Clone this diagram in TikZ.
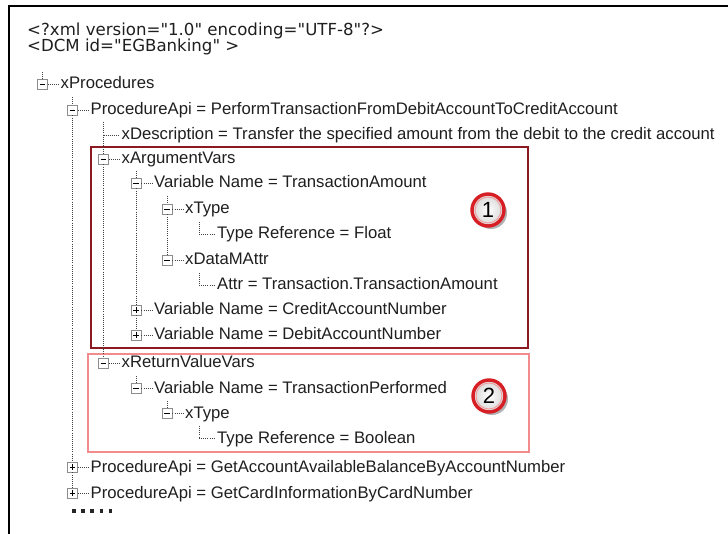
\documentclass[tikz,border=0pt]{standalone}
\usepackage{fontspec}
\setmainfont{Liberation Sans}
\newfontfamily\headfont{DejaVu Sans}
\usetikzlibrary{shadows,calc}
\newcommand\treefont{\fontsize{16.7}{20}\selectfont}
\newcommand\hdrfont{\headfont\fontsize{16.6}{20}\selectfont}
\begin{document}
\begin{tikzpicture}[x=1pt,y=-1pt,
  lbl/.style={anchor=base west, inner sep=0pt, font=\treefont, text=black!88},
  hdr/.style={anchor=base west, inner sep=0pt, font=\hdrfont, text=black!88},
  tbox/.style={draw=black!45, fill=white, line width=0.9pt, minimum size=10pt, inner sep=0pt},
  mbox/.style={tbox, path picture={\draw[black, line width=0.9pt] ($(path picture bounding box.center)+(-2.8,0)$) -- ++(5.6,0);}},
  pbox/.style={tbox, path picture={\draw[black, line width=0.9pt] ($(path picture bounding box.center)+(-2.8,0)$) -- ++(5.6,0) ($(path picture bounding box.center)+(0,-2.8)$) -- ++(0,5.6);}},
  dotl/.style={draw=black!75, line width=0.9pt, dash pattern=on 0.9pt off 1.2pt},
  hlink/.style={dotl, shorten >=2pt},
  badge/.style={circle, minimum size=32pt, inner sep=0pt, draw={rgb,255:red,214;green,30;blue,36}, line width=3.4pt,
    inner color=white, outer color=black!16, font=\fontsize{22}{22}\selectfont,
    drop shadow={shadow xshift=3pt, shadow yshift=-3pt, opacity=0.3, fill=black}},
  ring/.style={circle, minimum size=26pt, inner sep=0pt, draw={rgb,255:red,245;green,150;blue,150}, line width=0.8pt}
]
\useasboundingbox (0,0) rectangle (728,534);
\fill[white] (0,0) rectangle (728,534);
% frame
\draw[line width=2pt] (9,534) -- (9,6) -- (728,6);

% header lines
\node[hdr] (h1) at (27,36) {<?xml version="1.0" encoding="UTF-8"?>};
\node[hdr] (h2) at (27,52) {<DCM id="EGBanking" >};

% highlight boxes
\draw[line width=2.6pt, draw={rgb,255:red,140;green,24;blue,32}] (91,147) rectangle (528,348);
\draw[line width=2pt, draw={rgb,255:red,242;green,140;blue,140}] (88,354) rectangle (529,452);

% stubs and leaf coordinates
\coordinate (s1) at (42.5,72);
\coordinate (s2) at (72.5,97);
\coordinate (s3) at (103.5,122);
\coordinate (s5) at (136,171);
\coordinate (s6) at (167,196);
\coordinate (s7) at (199,222);
\coordinate (s9) at (199,273);
\coordinate (s13) at (136,376);
\coordinate (s14) at (167,401);
\coordinate (s15) at (199,426);
\coordinate (b3) at (103.5,135);
\coordinate (b7) at (199,234);
\coordinate (b9) at (199,285);
\coordinate (b15) at (199,438);

% boxes
\node[mbox] (b1) at (42.5,84) {};
\node[mbox] (b2) at (72.5,110) {};
\node[mbox] (b4) at (103.5,159) {};
\node[mbox] (b5) at (136,183) {};
\node[mbox] (b6) at (167,209) {};
\node[mbox] (b8) at (167,260) {};
\node[pbox] (b10) at (136,310) {};
\node[pbox] (b11) at (136,335) {};
\node[mbox] (b12) at (103.5,363) {};
\node[mbox] (b13) at (136,388) {};
\node[mbox] (b14) at (167,413) {};
\node[pbox] (b16) at (72.5,467) {};
\node[pbox] (b17) at (72.5,493) {};

% labels
\node[lbl] (t1) at (60.5,89) {xProcedures};
\node[lbl] (t2) at (90.5,115) {ProcedureApi = PerformTransactionFromDebitAccountToCreditAccount};
\node[lbl] (t3) at (121.5,140) {xDescription = Transfer the specified amount from the debit to the credit account};
\node[lbl] (t4) at (121.5,164) {xArgumentVars};
\node[lbl] (t5) at (154,188) {Variable Name = TransactionAmount};
\node[lbl] (t6) at (185,214) {xType};
\node[lbl] (t7) at (217,239) {Type Reference = Float};
\node[lbl] (t8) at (185,265) {xDataMAttr};
\node[lbl] (t9) at (217,290) {Attr = Transaction.TransactionAmount};
\node[lbl] (t10) at (154,315) {Variable Name = CreditAccountNumber};
\node[lbl] (t11) at (154,340) {Variable Name = DebitAccountNumber};
\node[lbl] (t12) at (121.5,368) {xReturnValueVars};
\node[lbl] (t13) at (154,393) {Variable Name = TransactionPerformed};
\node[lbl] (t14) at (185,418) {xType};
\node[lbl] (t15) at (217,443) {Type Reference = Boolean};
\node[lbl] (t16) at (90.5,472) {ProcedureApi = GetAccountAvailableBalanceByAccountNumber};
\node[lbl] (t17) at (90.5,498) {ProcedureApi = GetCardInformationByCardNumber};

% vertical connectors
\draw[dotl] (s1) -- (b1);
\draw[dotl] (s2) -- (b2) -- (b16) -- (b17);
\draw[dotl] (s3) -- (b3) -- (b4) -- (b12);
\draw[dotl] (s5) -- (b5) -- (b10) -- (b11);
\draw[dotl] (s6) -- (b6) -- (b8);
\draw[dotl] (s7) -- (b7);
\draw[dotl] (s9) -- (b9);
\draw[dotl] (s13) -- (b13);
\draw[dotl] (s14) -- (b14);
\draw[dotl] (s15) -- (b15);
% horizontal connectors
\foreach \i in {1,2,4,5,6,8,10,11,12,13,14,16,17}{
  \draw[hlink] (b\i.east) -- (t\i.base west |- b\i);
}
\foreach \i in {3,7,9,15}{
  \draw[hlink] (b\i) -- (t\i.base west |- b\i);
}
% continuation dots
\coordinate (d0) at (72,511);
\draw[line width=3.6pt, black!85, dash pattern=on 3.6pt off 5.6pt] (d0) -- ++(46,0);

% badges
\node[badge] (c1) at (488,210) {1};
\node[ring] (r1) at (c1) {};
\node[badge] (c2) at (489,396) {2};
\node[ring] (r2) at (c2) {};
\end{tikzpicture}
\end{document}
